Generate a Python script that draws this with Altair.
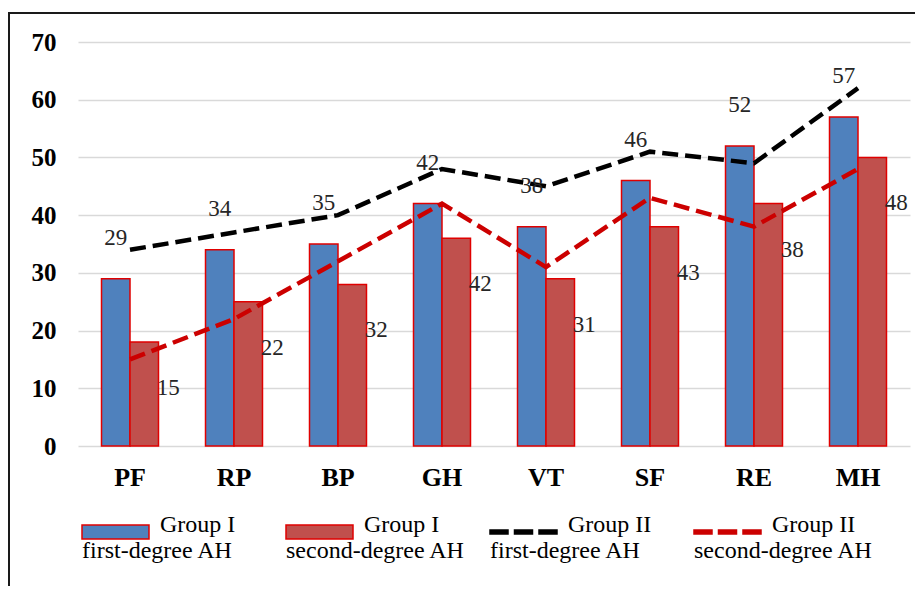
import altair as alt
import pandas as pd

# ---- data ----
categories = ["PF", "RP", "BP", "GH", "VT", "SF", "RE", "MH"]
g1_first = [29, 34, 35, 42, 38, 46, 52, 57]      # Group I first-degree AH (blue bars)
g1_second = [18, 25, 28, 36, 29, 38, 42, 50]     # Group I second-degree AH (red bars)
g2_first = [34, 37, 40, 48, 45, 51, 49, 62]      # Group II first-degree AH (black dashed)
g2_second = [15, 22, 32, 42, 31, 43, 38, 48]     # Group II second-degree AH (red dashed)
series_names = [
    "Group I|first-degree AH",
    "Group I|second-degree AH",
    "Group II|first-degree AH",
    "Group II|second-degree AH",
]
y_ticks = [0, 10, 20, 30, 40, 50, 60, 70]

# ---- tables ----
bars = pd.DataFrame({
    "cat": categories * 2,
    "series": [series_names[0]] * 8 + [series_names[1]] * 8,
    "value": g1_first + g1_second,
})
lines = pd.DataFrame({
    "cat": categories * 2,
    "series": [series_names[2]] * 8 + [series_names[3]] * 8,
    "value": g2_first + g2_second,
})
blue_labels = pd.DataFrame({"cat": categories, "series": series_names[0],
                            "value": g1_first, "text": [str(v) for v in g1_first]})
red_labels = pd.DataFrame({"cat": categories, "series": series_names[1],
                           "value": g1_second, "text": [str(v) for v in g2_second]})
legend_df = pd.DataFrame({"series": series_names})
frame_df = pd.DataFrame({"k": [0]})

FONT = "Liberation Serif"
fill_range = ["#4F81BD", "#C0504D", "#000000", "#CC0000"]
stroke_range = ["#E00000", "#E00000", "#000000", "#CC0000"]
# legend symbol shapes (unit = 5 px with symbolSize 100), drawn to the right of the
# symbol slot so that they sit at the start of the label column
rect_path = "M2.4,-1.4H15.8V1.4H2.4Z"
dash_path = ("M2.4,-0.4H6.0V0.4H2.4Z M7.3,-0.4H10.9V0.4H7.3Z "
             "M12.2,-0.4H15.8V0.4H12.2Z")

x_enc = alt.X("cat:N", sort=categories,
              scale=alt.Scale(domain=categories, paddingInner=0.452, paddingOuter=0.226),
              axis=alt.Axis(title=None, labelAngle=0, labelFont=FONT, labelFontWeight="bold",
                            labelFontSize=26, labelColor="#000000", labelPadding=18,
                            ticks=False, tickSize=0, domain=False, grid=False))
y_enc = alt.Y("value:Q",
              scale=alt.Scale(domain=[0, 70], nice=False, zero=True),
              axis=alt.Axis(title=None, values=y_ticks, labelFont=FONT, labelFontWeight="bold",
                            labelFontSize=25, labelColor="#000000", labelPadding=22,
                            ticks=False, tickSize=0, domain=False, grid=True,
                            gridColor="#D9D9D9", gridWidth=1.5))
xoff = alt.XOffset("series:N", scale=alt.Scale(domain=series_names[:2], paddingInner=0))
# colour scale for the drawn marks (domain order differs from the legend scales so that
# Vega-Lite keeps this hidden legend separate from the visible one)
color_enc = alt.Color("series:N",
                      scale=alt.Scale(domain=series_names[2:] + series_names[:2],
                                      range=fill_range[2:] + fill_range[:2]),
                      legend=None)

frame = alt.Chart(frame_df).mark_rect(fill="white", fillOpacity=0, stroke="#1a1a1a",
                                      strokeWidth=2).encode(
    x=alt.value(-69), x2=alt.value(1000), y=alt.value(-29), y2=alt.value(800))

bar_layer = alt.Chart(bars).mark_bar(stroke="#E00000", strokeWidth=1.5).encode(
    x=x_enc, y=y_enc, xOffset=xoff, color=color_enc)

line_layer = alt.Chart(lines).mark_line(strokeDash=[16, 7], strokeWidth=4.5).encode(
    x=x_enc, y=y_enc, color=color_enc, detail="series:N")

blue_text = alt.Chart(blue_labels).mark_text(font=FONT, fontSize=23, color="#262626",
                                             baseline="middle", dy=-41).encode(
    x=x_enc, y=y_enc, xOffset=xoff, text="text:N")

red_text = alt.Chart(red_labels).mark_text(font=FONT, fontSize=23, color="#262626",
                                           baseline="middle", dx=24, dy=46).encode(
    x=x_enc, y=y_enc, xOffset=xoff, text="text:N")

pad = "\u200b" + "\u00a0" * 13
leg = alt.Legend(
    title=None, orient="none", legendX=-20, legendY=478, direction="horizontal",
    columns=4, gridAlign="all", columnPadding=0, padding=0,
    symbolSize=100, symbolStrokeWidth=1.5, symbolFillColor="#000000", symbolOpacity=1,
    labelFont=FONT, labelFontSize=24, labelColor="#000000", labelAlign="left",
    labelBaseline="alphabetic", labelOffset=0, labelLimit=800,
    labelExpr="['" + pad + "' + split(datum.label, '|')[0], split(datum.label, '|')[1]]",
)
legend_layer = alt.Chart(legend_df).transform_filter("false").mark_point(
    filled=True, size=100).encode(
    fill=alt.Fill("series:N", scale=alt.Scale(domain=series_names, range=fill_range), legend=leg),
    stroke=alt.Stroke("series:N", scale=alt.Scale(domain=series_names, range=stroke_range), legend=leg),
    shape=alt.Shape("series:N", scale=alt.Scale(domain=series_names,
                                                range=[rect_path, rect_path, dash_path, dash_path]),
                    legend=leg),
)

chart = alt.layer(legend_layer, frame, bar_layer, line_layer, blue_text, red_text).properties(
    width=832, height=404,
    autosize=alt.AutoSizeParams(type="none"),
    padding={"left": 70, "top": 34, "right": 5, "bottom": 140},
    background="white",
).configure_view(stroke="transparent")

chart.save("out.html", embed_options={"renderer": "svg", "actions": False})
